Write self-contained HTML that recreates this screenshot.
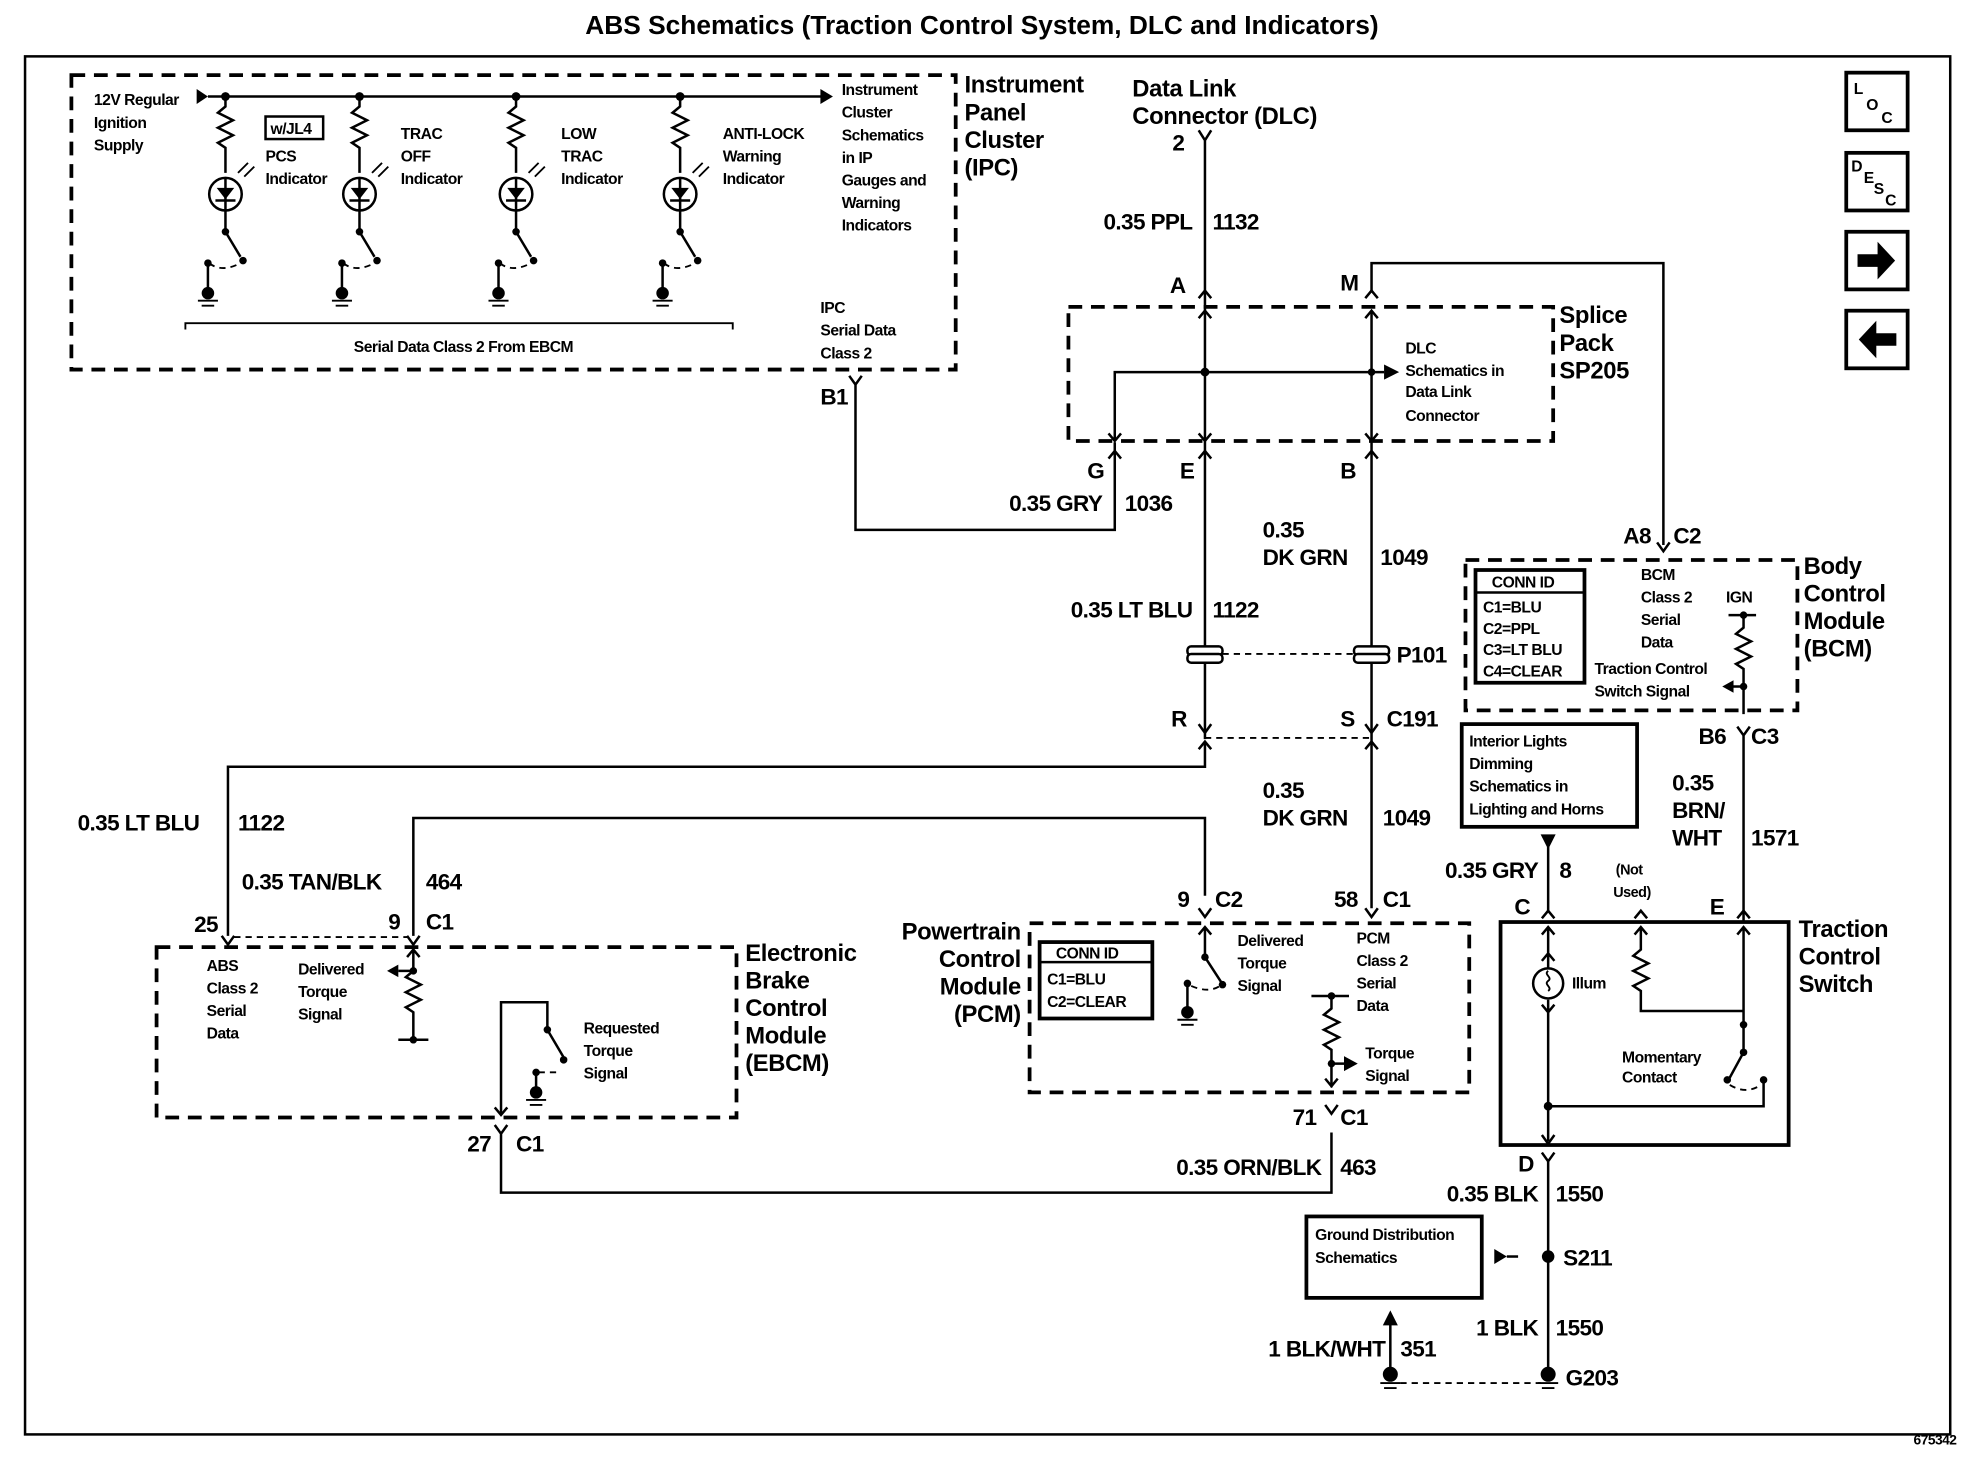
<!DOCTYPE html>
<html><head><meta charset="utf-8">
<style>
html,body{margin:0;padding:0;background:#fff;}
svg{display:block;}
text{font-family:"Liberation Sans",Arial,sans-serif;fill:#000;}
.s{font-size:12.5px;font-weight:bold;letter-spacing:-0.4px;}
.m{font-size:18px;font-weight:bold;letter-spacing:-0.5px;}
.b{font-size:19px;letter-spacing:-0.3px;font-weight:bold;}
.w{stroke:#000;stroke-width:2;fill:none;}
.d{stroke:#000;stroke-width:3;fill:none;stroke-dasharray:11,7;}
.dl{stroke:#000;stroke-width:1.5;fill:none;stroke-dasharray:5,4;}
</style></head><body>
<svg width="1964" height="1472" viewBox="0 0 1568 1175" preserveAspectRatio="none" xmlns="http://www.w3.org/2000/svg">
<rect width="1568" height="1175" fill="#fff"/>
<text x="784" y="27" text-anchor="middle" style="font-size:21px;font-weight:bold">ABS Schematics (Traction Control System, DLC and Indicators)</text>
<rect x="20" y="45" width="1537" height="1100" class="w"/>
<text x="1562" y="1153" text-anchor="end" class="s" style="font-size:11px">675342</text>

<!-- nav icons -->
<rect x="1474" y="58" width="49" height="46" class="w" style="stroke-width:3"/>
<text x="1480" y="75" class="s">L</text><text x="1490" y="88" class="s">O</text><text x="1502" y="98" class="s">C</text>
<rect x="1474" y="122" width="49" height="46" class="w" style="stroke-width:3"/>
<text x="1478" y="137" class="s">D</text><text x="1488" y="146" class="s">E</text><text x="1496" y="155" class="s">S</text><text x="1505" y="164" class="s">C</text>
<rect x="1474" y="185" width="49" height="46" class="w" style="stroke-width:3"/>
<path d="M1483 203h16v-10l14 15-14 15v-10h-16z"/>
<rect x="1474" y="248" width="49" height="46" class="w" style="stroke-width:3"/>
<path d="M1514 266h-16v-10l-14 15 14 15v-10h16z"/>

<!-- IPC box -->
<rect x="57" y="60" width="706" height="235" class="d"/>
<text class="s" x="75" y="84">12V Regular</text><text class="s" x="75" y="102">Ignition</text><text class="s" x="75" y="120">Supply</text>
<path d="M157 71l9 6-9 6z"/>
<line x1="166" y1="77" x2="660" y2="77" class="w"/>
<path d="M655 71l10 6-10 6z"/>
<g id="ind">
<circle cx="180" cy="77" r="3.5"/>
<path d="M180 77v8l-6 5 12 6-12 6 12 6-12 6 6 4v20" class="w"/>
<circle cx="180" cy="155" r="13" class="w"/>
<path d="M173 150h14l-7 9z"/><line x1="172" y1="160" x2="188" y2="160" class="w"/>
<line x1="180" y1="142" x2="180" y2="168" class="w"/>
<path d="M190 138l8-8M195 141l8-8" class="w" style="stroke-width:1.5"/>
<line x1="180" y1="168" x2="180" y2="185" class="w"/>
<circle cx="180" cy="185" r="3"/><path d="M180 185l12 20" class="w"/><circle cx="194" cy="208" r="3"/>
<path d="M167 210q10 8 25 0" class="dl"/>
<circle cx="166" cy="210" r="3"/><line x1="166" y1="210" x2="166" y2="235" class="w"/>
<circle cx="166" cy="234" r="5"/><path d="M158 240h16M161 244h10" class="w" style="stroke-width:1.5"/>
</g>
<use href="#ind" x="107"/><use href="#ind" x="232"/><use href="#ind" x="363"/>
<rect x="212" y="93" width="46" height="18" class="w"/>
<text class="s" x="216" y="107">w/JL4</text>
<text class="s" x="212" y="129">PCS</text><text class="s" x="212" y="147">Indicator</text>
<text class="s" x="320" y="111">TRAC</text><text class="s" x="320" y="129">OFF</text><text class="s" x="320" y="147">Indicator</text>
<text class="s" x="448" y="111">LOW</text><text class="s" x="448" y="129">TRAC</text><text class="s" x="448" y="147">Indicator</text>
<text class="s" x="577" y="111">ANTI-LOCK</text><text class="s" x="577" y="129">Warning</text><text class="s" x="577" y="147">Indicator</text>
<text class="s" x="672" y="76">Instrument</text><text class="s" x="672" y="94">Cluster</text><text class="s" x="672" y="112">Schematics</text><text class="s" x="672" y="130">in IP</text><text class="s" x="672" y="148">Gauges and</text><text class="s" x="672" y="166">Warning</text><text class="s" x="672" y="184">Indicators</text>
<path d="M148 263v-5h437v5" class="w" style="stroke-width:1.5"/>
<text class="s" x="370" y="281" text-anchor="middle">Serial Data Class 2 From EBCM</text>
<text class="s" x="655" y="250">IPC</text><text class="s" x="655" y="268">Serial Data</text><text class="s" x="655" y="286">Class 2</text>
<text class="b" x="770" y="74">Instrument</text><text class="b" x="770" y="96">Panel</text><text class="b" x="770" y="118">Cluster</text><text class="b" x="770" y="140">(IPC)</text>

<!-- B1 wire -->
<text class="m" x="655" y="323">B1</text>
<path d="M678 300l5 7 5-7M683 307v116h207v-70" class="w"/>
<text class="m" x="880" y="408" text-anchor="end">0.35 GRY</text><text class="m" x="898" y="408">1036</text>

<!-- DLC -->
<text class="b" x="904" y="77">Data Link</text><text class="b" x="904" y="99">Connector (DLC)</text>
<text class="m" x="936" y="120">2</text>
<path d="M957 104l5 8 5-8M962 112v478" class="w"/>
<text class="m" x="952" y="183" text-anchor="end">0.35 PPL</text><text class="m" x="968" y="183">1132</text>
<text class="m" x="934" y="234">A</text>
<path d="M957 238l5-6 5 6M957 254l5-6 5 6" class="w"/>
<text class="m" x="1070" y="232">M</text>
<path d="M1090 238l5-6 5 6M1090 254l5-6 5 6" class="w"/>
<path d="M1095 232v-22h233v225" class="w"/>

<!-- splice pack -->
<rect x="853" y="245" width="387" height="107" class="d"/>
<path d="M890 352v-55h215" class="w"/><path d="M1105 291l12 6-12 6z"/>
<circle cx="962" cy="297" r="3.5"/><circle cx="1095" cy="297" r="3"/>
<line x1="1095" y1="248" x2="1095" y2="362" class="w"/>
<path d="M885 346l5 6 5-6M957 346l5 6 5-6M1090 346l5 6 5-6" class="w"/>
<path d="M885 366l5-6 5 6M957 366l5-6 5 6M1090 366l5-6 5 6" class="w"/>
<text class="s" x="1122" y="282">DLC</text><text class="s" x="1122" y="300">Schematics in</text><text class="s" x="1122" y="317">Data Link</text><text class="s" x="1122" y="336">Connector</text>
<text class="b" x="1245" y="258">Splice</text><text class="b" x="1245" y="280">Pack</text><text class="b" x="1245" y="302">SP205</text>
<text class="m" x="868" y="382">G</text><text class="m" x="942" y="382">E</text><text class="m" x="1070" y="382">B</text>
<line x1="1095" y1="360" x2="1095" y2="725" class="w"/>
<text class="m" x="1008" y="429">0.35</text><text class="m" x="1008" y="451">DK GRN</text><text class="m" x="1102" y="451">1049</text>
<text class="m" x="952" y="493" text-anchor="end">0.35 LT BLU</text><text class="m" x="968" y="493">1122</text>
<!-- P101 -->
<rect x="948" y="516" width="28" height="7" rx="3" class="w" style="fill:#fff"/><rect x="948" y="522" width="28" height="7" rx="3" class="w" style="fill:#fff"/>
<rect x="1081" y="516" width="28" height="7" rx="3" class="w" style="fill:#fff"/><rect x="1081" y="522" width="28" height="7" rx="3" class="w" style="fill:#fff"/>
<line x1="976" y1="522" x2="1081" y2="522" class="dl"/>
<text class="m" x="1115" y="529">P101</text>
<!-- C191 -->
<text class="m" x="935" y="580">R</text><text class="m" x="1070" y="580">S</text><text class="m" x="1107" y="580">C191</text>
<path d="M957 578l5 7 5-7M1090 578l5 7 5-7M957 598l5-6 5 6M1090 598l5-6 5 6" class="w"/>
<line x1="962" y1="589" x2="1095" y2="589" class="dl"/>
<path d="M962 592v20h-780v135" class="w"/>
<text class="m" x="62" y="663">0.35 LT BLU</text><text class="m" x="190" y="663">1122</text>
<path d="M330 747v-94h632v62" class="w"/>
<text class="m" x="193" y="710">0.35 TAN/BLK</text><text class="m" x="340" y="710">464</text>
<text class="m" x="1008" y="637">0.35</text><text class="m" x="1008" y="659">DK GRN</text><text class="m" x="1104" y="659">1049</text>
<text class="m" x="940" y="724">9</text><text class="m" x="970" y="724">C2</text>
<text class="m" x="1065" y="724">58</text><text class="m" x="1104" y="724">C1</text>
<path d="M957 725l5 7 5-7M1090 725l5 7 5-7" class="w"/>

<!-- BCM -->
<text class="m" x="1296" y="434">A8</text><text class="m" x="1336" y="434">C2</text>
<path d="M1323 433l5 7 5-7" class="w"/>
<rect x="1170" y="447" width="265" height="120" class="d"/>
<rect x="1178" y="455" width="87" height="90" class="w" style="stroke-width:3"/>
<line x1="1178" y1="473" x2="1265" y2="473" class="w"/>
<text class="s" x="1191" y="469">CONN ID</text>
<text class="s" x="1184" y="489">C1=BLU</text><text class="s" x="1184" y="506">C2=PPL</text><text class="s" x="1184" y="523">C3=LT BLU</text><text class="s" x="1184" y="540">C4=CLEAR</text>
<text class="s" x="1310" y="463">BCM</text><text class="s" x="1310" y="481">Class 2</text><text class="s" x="1310" y="499">Serial</text><text class="s" x="1310" y="517">Data</text>
<text class="s" x="1378" y="481">IGN</text>
<text class="s" x="1273" y="538">Traction Control</text><text class="s" x="1273" y="556">Switch Signal</text>
<path d="M1380 491h22M1392 491v10l-6 5 12 6-12 6 12 6-12 6 6 4v36" class="w"/>
<circle cx="1392" cy="491" r="3"/><circle cx="1392" cy="548" r="3"/>
<path d="M1392 548h-10" class="w"/><path d="M1384 543l-9 5 9 5z"/>
<text class="b" x="1440" y="458">Body</text><text class="b" x="1440" y="480">Control</text><text class="b" x="1440" y="502">Module</text><text class="b" x="1440" y="524">(BCM)</text>
<text class="m" x="1356" y="594">B6</text><text class="m" x="1398" y="594">C3</text>
<path d="M1387 580l5 7 5-7M1392 587v148" class="w"/>
<text class="m" x="1335" y="631">0.35</text><text class="m" x="1335" y="653">BRN/</text><text class="m" x="1335" y="675">WHT</text><text class="m" x="1398" y="675">1571</text>
<rect x="1167" y="578" width="140" height="82" class="w" style="stroke-width:3"/>
<text class="s" x="1173" y="596">Interior Lights</text><text class="s" x="1173" y="614">Dimming</text><text class="s" x="1173" y="632">Schematics in</text><text class="s" x="1173" y="650">Lighting and Horns</text>
<path d="M1230 666h12l-6 12z"/><line x1="1236" y1="676" x2="1236" y2="727" class="w"/>
<text class="m" x="1228" y="701" text-anchor="end">0.35 GRY</text><text class="m" x="1245" y="701">8</text>
<text class="s" x="1290" y="698" style="font-size:11.5px">(Not</text><text class="s" x="1288" y="716" style="font-size:11.5px">Used)</text>
<text class="m" x="1209" y="730">C</text><text class="m" x="1365" y="730">E</text>
<path d="M1231 733l5-6 5 6M1305 733l5-6 5 6M1387 733l5-6 5 6" class="w"/>
<!-- TCS -->
<rect x="1198" y="736" width="230" height="178" class="w" style="stroke-width:3"/>
<path d="M1231 746l5-6 5 6M1231 767l5-6 5 6M1231 802l5 6 5-6M1236 740v33M1236 798v113" class="w"/>
<circle cx="1236" cy="785" r="12" class="w"/>
<path d="M1236 775c-4 3 4 5 0 8s4 5 0 8" class="w" style="stroke-width:1.5"/>
<text class="s" x="1255" y="789">Illum</text>
<path d="M1305 746l5-6 5 6M1310 740v18l-6 5 12 6-12 6 12 6-12 6 6 4v16h82" class="w"/>
<path d="M1387 746l5-6 5 6M1392 740v100l-12 22" class="w"/>
<circle cx="1392" cy="818" r="3"/><circle cx="1392" cy="840" r="3"/><circle cx="1379" cy="862" r="3"/><circle cx="1408" cy="862" r="3"/>
<path d="M1381 866q13 8 25 0" class="dl"/>
<path d="M1408 862v21h-172" class="w"/><circle cx="1236" cy="883" r="3.5"/>
<path d="M1231 906l5 7 5-7" class="w"/>
<text class="s" x="1295" y="848">Momentary</text><text class="s" x="1295" y="864">Contact</text>
<text class="b" x="1436" y="748">Traction</text><text class="b" x="1436" y="770">Control</text><text class="b" x="1436" y="792">Switch</text>
<text class="m" x="1212" y="935">D</text>
<path d="M1231 920l5 7 5-7M1236 927v171" class="w"/>
<text class="m" x="1228" y="959" text-anchor="end">0.35 BLK</text><text class="m" x="1242" y="959">1550</text>
<circle cx="1236" cy="1003" r="5"/><text class="m" x="1248" y="1010">S211</text>
<path d="M1193 997l10 6-10 6z"/><line x1="1203" y1="1003" x2="1212" y2="1003" class="w"/>
<rect x="1043" y="971" width="140" height="65" class="w" style="stroke-width:3"/>
<text class="s" x="1050" y="990">Ground Distribution</text><text class="s" x="1050" y="1008">Schematics</text>
<text class="m" x="1228" y="1066" text-anchor="end">1 BLK</text><text class="m" x="1242" y="1066">1550</text>
<circle cx="1236" cy="1097" r="6"/><path d="M1228 1104h16M1231 1108h10" class="w" style="stroke-width:1.5"/>
<text class="m" x="1250" y="1106">G203</text>
<path d="M1104 1058l6-12 6 12z"/><line x1="1110" y1="1056" x2="1110" y2="1097" class="w"/>
<circle cx="1110" cy="1097" r="6"/><path d="M1102 1104h16M1105 1108h10" class="w" style="stroke-width:1.5"/>
<line x1="1118" y1="1104" x2="1230" y2="1104" class="dl"/>
<text class="m" x="1106" y="1083" text-anchor="end">1 BLK/WHT</text><text class="m" x="1118" y="1083">351</text>

<!-- EBCM -->
<text class="m" x="155" y="744">25</text><text class="m" x="310" y="742">9</text><text class="m" x="340" y="742">C1</text>
<path d="M177 747l5 7 5-7M325 747l5 7 5-7" class="w"/>
<line x1="187" y1="748" x2="325" y2="748" class="dl"/>
<rect x="125" y="756" width="463" height="136" class="d"/>
<path d="M325 764l5-6 5 6M330 758v17l-6 5 12 6-12 6 12 6-12 6 6 4v20M318 830h24" class="w"/>
<circle cx="330" cy="775" r="3"/><circle cx="330" cy="830" r="3"/>
<path d="M330 775h-12" class="w"/><path d="M318 770l-9 5 9 5z"/>
<text class="s" x="165" y="775">ABS</text><text class="s" x="165" y="793">Class 2</text><text class="s" x="165" y="811">Serial</text><text class="s" x="165" y="829">Data</text>
<text class="s" x="238" y="778">Delivered</text><text class="s" x="238" y="796">Torque</text><text class="s" x="238" y="814">Signal</text>
<path d="M400 890v-90h37v22l13 22" class="w"/>
<circle cx="437" cy="822" r="3"/><circle cx="450" cy="846" r="3"/>
<path d="M395 884l5 6 5-6" class="w"/>
<circle cx="428" cy="856" r="3"/><line x1="428" y1="856" x2="428" y2="872" class="w"/><path d="M430 856h18" class="dl"/>
<circle cx="428" cy="872" r="5"/><path d="M420 878h16M423 882h10" class="w" style="stroke-width:1.5"/>
<text class="s" x="466" y="825">Requested</text><text class="s" x="466" y="843">Torque</text><text class="s" x="466" y="861">Signal</text>
<text class="b" x="595" y="767">Electronic</text><text class="b" x="595" y="789">Brake</text><text class="b" x="595" y="811">Control</text><text class="b" x="595" y="833">Module</text><text class="b" x="595" y="855">(EBCM)</text>
<text class="m" x="373" y="919">27</text><text class="m" x="412" y="919">C1</text>
<path d="M395 898l5 7 5-7M400 905v47h663v-48" class="w"/>
<text class="m" x="1055" y="938" text-anchor="end">0.35 ORN/BLK</text><text class="m" x="1070" y="938">463</text>
<text class="m" x="1032" y="898">71</text><text class="m" x="1070" y="898">C1</text>
<path d="M1058 882l5 7 5-7" class="w"/>

<!-- PCM -->
<rect x="822" y="737" width="351" height="135" class="d"/>
<rect x="830" y="752" width="90" height="61" class="w" style="stroke-width:3"/>
<line x1="830" y1="768" x2="920" y2="768" class="w"/>
<text class="s" x="843" y="765">CONN ID</text>
<text class="s" x="836" y="786">C1=BLU</text><text class="s" x="836" y="804">C2=CLEAR</text>
<path d="M957 746l5-6 5 6M962 740v24l13 20" class="w"/>
<circle cx="962" cy="764" r="3"/><circle cx="976" cy="786" r="3"/>
<circle cx="948" cy="785" r="3"/><line x1="948" y1="785" x2="948" y2="808" class="w"/><path d="M951 787q14 6 23 0" class="dl"/>
<circle cx="948" cy="808" r="5"/><path d="M940 814h16M943 818h10" class="w" style="stroke-width:1.5"/>
<text class="s" x="988" y="755">Delivered</text><text class="s" x="988" y="773">Torque</text><text class="s" x="988" y="791">Signal</text>
<text class="s" x="1083" y="753">PCM</text><text class="s" x="1083" y="771">Class 2</text><text class="s" x="1083" y="789">Serial</text><text class="s" x="1083" y="807">Data</text>
<path d="M1047 795h30M1063 795v10l-6 5 12 6-12 6 12 6-12 6 6 4v30M1058 861l5 6 5-6M1063 849h12" class="w"/>
<circle cx="1063" cy="795" r="3"/><circle cx="1063" cy="849" r="3"/>
<path d="M1073 843l11 6-11 6z"/>
<text class="s" x="1090" y="845">Torque</text><text class="s" x="1090" y="863">Signal</text>
<text class="b" x="815" y="750" text-anchor="end">Powertrain</text><text class="b" x="815" y="772" text-anchor="end">Control</text><text class="b" x="815" y="794" text-anchor="end">Module</text><text class="b" x="815" y="816" text-anchor="end">(PCM)</text>
</svg>
</body></html>
